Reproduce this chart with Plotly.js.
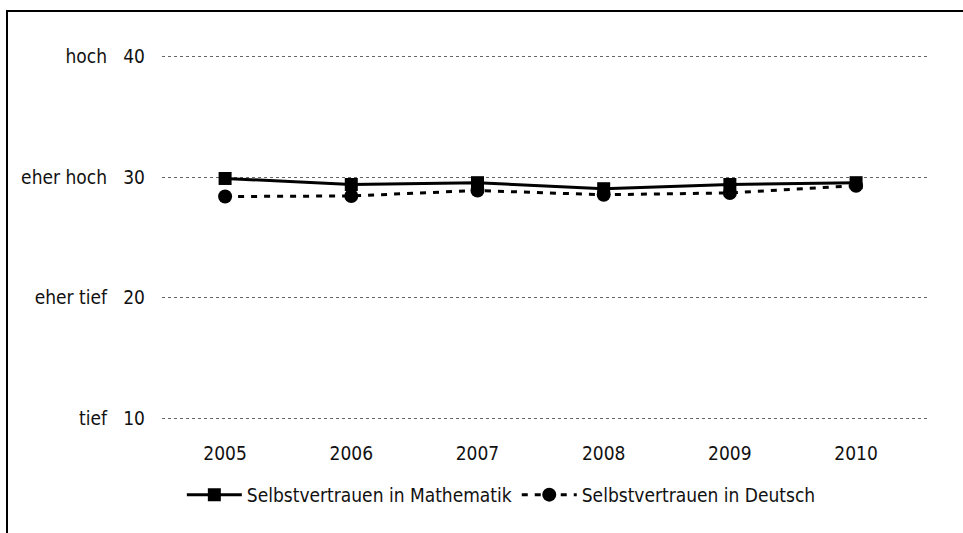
<!DOCTYPE html>
<html><head><meta charset="utf-8">
<script src="https://cdn.plot.ly/plotly-3.0.1.min.js"></script>
<style>
body{margin:0;padding:0;background:#fff;}
#wrap{position:relative;width:963px;height:533px;}
#chart{position:absolute;left:0;top:0;width:963px;height:533px;}
#frame{position:absolute;left:6px;top:10px;width:957px;height:523px;border-left:2px solid #000;border-top:2px solid #000;box-sizing:border-box;pointer-events:none;}
</style></head>
<body><div id="wrap"><div id="chart"></div><div id="frame"></div></div>
<script>
const years = ['2005','2006','2007','2008','2009','2010'];
const mathe = [29.9, 29.4, 29.55, 29.05, 29.4, 29.55];
const deutsch = [28.4, 28.45, 28.9, 28.55, 28.7, 29.3];
const yTickVals = [10, 20, 30, 40];
const yTickText = ['tief\u00a0\u00a0\u00a010', 'eher tief\u00a0\u00a0\u00a020', 'eher hoch\u00a0\u00a0\u00a030', 'hoch\u00a0\u00a0\u00a040'];
const names = ['Selbstvertrauen in Mathematik', 'Selbstvertrauen in Deutsch'];

const fam = 'DejaVu Sans Condensed, sans-serif';
const font = {family: fam, size: 19, color: '#111'};

const traces = [
  {x: years, y: mathe, name: names[0], type: 'scatter', mode: 'lines+markers',
   line: {color: '#000', width: 3}, marker: {symbol: 'square', size: 13, color: '#000'}},
  {x: years, y: deutsch, name: names[1], type: 'scatter', mode: 'lines+markers',
   line: {color: '#000', width: 3, dash: '6px,7px'}, marker: {symbol: 'circle', size: 14, color: '#000'}}
];

const layout = {
  width: 963, height: 533,
  margin: {l: 162, r: 35, t: 55, b: 113},
  paper_bgcolor: '#fff', plot_bgcolor: '#fff',
  font: font,
  showlegend: true,
  legend: {orientation: 'h', x: 0.443, xanchor: 'center', y: -0.205, yanchor: 'middle', font: font, itemwidth: 55, tracegroupgap: 0},
  xaxis: {type: 'category', range: [-0.5, 5.57], showgrid: false, zeroline: false, showline: false, ticks: '', ticklabelstandoff: 20, tickfont: font},
  yaxis: {range: [9.85, 40.15], tickvals: yTickVals, ticktext: yTickText, showgrid: true, gridcolor: '#666', gridwidth: 1, griddash: '3px,3px', zeroline: false, showline: false, ticks: '', ticklabelstandoff: 16, tickfont: font}
};
Plotly.newPlot('chart', traces, layout, {displayModeBar: false, staticPlot: true});
</script></body></html>
